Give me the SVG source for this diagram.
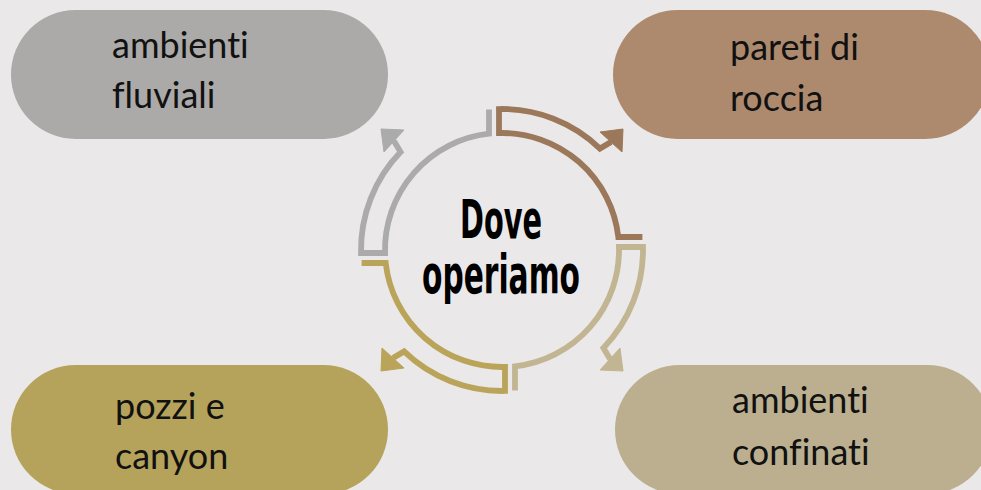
<svg xmlns="http://www.w3.org/2000/svg" width="981" height="490" viewBox="0 0 981 490">
  <defs>
    <style>
      .pill-text { font-family: Lato, "Noto Sans", sans-serif; font-size: 36px; fill: #111111; font-variant-ligatures: none; font-feature-settings: "liga" 0, "clig" 0; }
      .center-text { font-family: "DejaVu Sans Condensed", "DejaVu Sans", sans-serif; font-weight: bold; font-size: 54px; fill: #000000; }
      .band { fill: none; stroke-width: 5.8; stroke-linejoin: miter; }
    </style>
    <g id="arrowShape">
      <path class="band" d="M 642.4 237 L 618.3 237 A 117 117 0 0 0 499 133.04 L 499 109.03 A 141 141 0 0 1 599.95 148.57 L 611 142"/>
      <polygon points="600,132 623,129 622,152"/>
    </g>
  </defs>
  <rect x="0" y="0" width="981" height="490" fill="#EBE8E9"/>

  <g id="connectors">
    <g id="arrow-roccia" stroke="#9C785A" fill="#9C785A">
      <use href="#arrowShape"/>
    </g>
    <g id="arrow-confinati" stroke="#C1B592" fill="#C1B592">
      <use href="#arrowShape" transform="rotate(90 502 250)"/>
    </g>
    <g id="arrow-canyon" stroke="#B9A45A" fill="#B9A45A">
      <use href="#arrowShape" transform="rotate(180 502 250)"/>
    </g>
    <g id="arrow-fluviali" stroke="#ABABAB" fill="#ABABAB">
      <use href="#arrowShape" transform="rotate(-90 502 250)"/>
    </g>
  </g>

  <g id="node-center">
    <text class="center-text" x="501" y="238" text-anchor="middle" textLength="82" lengthAdjust="spacingAndGlyphs">Dove</text>
    <text class="center-text" x="501" y="293" text-anchor="middle" textLength="158" lengthAdjust="spacingAndGlyphs">operiamo</text>
  </g>

  <g id="node-fluviali">
    <rect x="11" y="10" width="377" height="129" rx="64.5" fill="#ABAAA8"/>
    <text class="pill-text" x="112" y="58">ambienti</text>
    <text class="pill-text" x="112" y="108">fluviali</text>
  </g>

  <g id="node-roccia">
    <rect x="613" y="10" width="377" height="129" rx="64.5" fill="#AD8A6E"/>
    <text class="pill-text" x="730" y="60">pareti di</text>
    <text class="pill-text" x="730" y="111">roccia</text>
  </g>

  <g id="node-confinati">
    <rect x="615" y="365" width="377" height="129" rx="64.5" fill="#BBAF8F"/>
    <text class="pill-text" x="732" y="413">ambienti</text>
    <text class="pill-text" x="732" y="465">confinati</text>
  </g>

  <g id="node-canyon">
    <rect x="11" y="365" width="377" height="129" rx="64.5" fill="#B5A35B"/>
    <text class="pill-text" x="115" y="419">pozzi e</text>
    <text class="pill-text" x="115" y="469">canyon</text>
  </g>
</svg>
